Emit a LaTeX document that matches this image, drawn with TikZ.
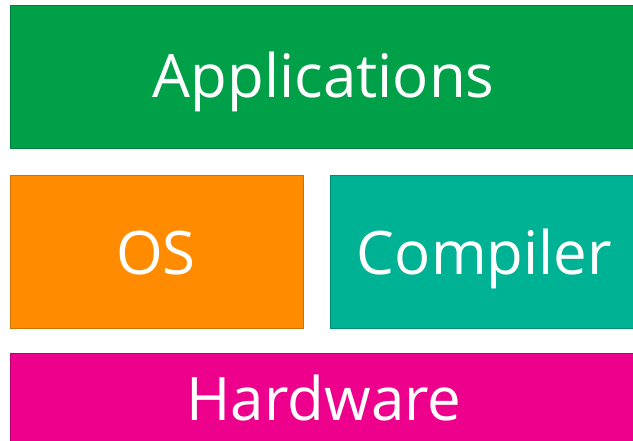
\documentclass[tikz,border=0pt]{standalone}
\usepackage{fontspec}
\setmainfont{Open Sans}
\usetikzlibrary{positioning}
\definecolor{AppGreen}{RGB}{0, 160, 72}
\definecolor{OSOrange}{RGB}{255, 140, 0}
\definecolor{CompTeal}{RGB}{0, 178, 148}
\definecolor{HwMagenta}{RGB}{236, 0, 140}

\tikzset{
  layer/.style={draw=#1!80!black, fill=#1, line width=1pt, text=white,
                inner sep=0pt, font=\fontsize{60}{64}\selectfont}
}

\begin{document}
\begin{tikzpicture}[x=1pt, y=-1pt]
    \useasboundingbox (0, 0) rectangle (633, 440);
    \clip (0, 0) rectangle (633, 440);

    % Layer stack: applications on top, hardware at the bottom
    \node[layer=AppGreen, minimum width=640pt, minimum height=143pt, anchor=north west]
          (apps) at (10, 5) {};
    \node[layer=OSOrange, minimum width=293pt, minimum height=153pt, anchor=north west]
          (os) at (10, 174.5) {};
    \node[layer=CompTeal, minimum width=320pt, minimum height=153pt, anchor=north west]
          (comp) at (330, 174.5) {};
    \node[layer=HwMagenta, minimum width=640pt, minimum height=120pt, anchor=north west]
          (hw) at (10, 352.5) {};

    % Labels, set on their baselines
    \node[layer=AppGreen, draw=none, fill=none, anchor=base] (appslbl) at (323.5, 97) {Applications};
    \node[layer=OSOrange, draw=none, fill=none, anchor=base] (oslbl) at (156, 274) {OS};
    \node[layer=CompTeal, draw=none, fill=none, anchor=base] (complbl) at (484.5, 274) {Compiler};
    \node[layer=HwMagenta, draw=none, fill=none, anchor=base] (hwlbl) at (324, 420) {Hardware};
\end{tikzpicture}
\end{document}
